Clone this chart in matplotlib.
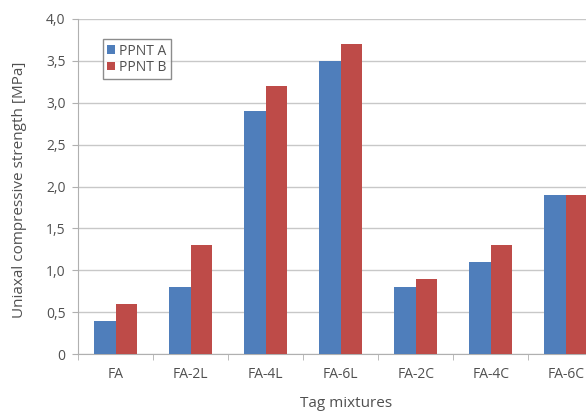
import numpy as np
import matplotlib
matplotlib.use('Agg')
import matplotlib.pyplot as plt

categories = ['FA', 'FA-2L', 'FA-4L', 'FA-6L', 'FA-2C', 'FA-4C', 'FA-6C']
ppnt_a = [0.4, 0.8, 2.9, 3.5, 0.8, 1.1, 1.9]
ppnt_b = [0.6, 1.3, 3.2, 3.7, 0.9, 1.3, 1.9]
yticks = [0, 0.5, 1.0, 1.5, 2.0, 2.5, 3.0, 3.5, 4.0]
ytick_labels = ['0', '0,5', '1,0', '1,5', '2,0', '2,5', '3,0', '3,5', '4,0']

plt.rcParams['font.family'] = ['Open Sans', 'DejaVu Sans']
txt = '#505050'

fig = plt.figure(figsize=(5.86, 4.17), dpi=100)
ax = fig.add_axes([78 / 586, 63 / 417, 1 - 78 / 586, (354 - 19) / 417])

x = np.arange(len(categories))
w = 0.29
ax.bar(x - w / 2, ppnt_a, w, color='#4F7EBB', label='PPNT A', zorder=3)
ax.bar(x + w / 2, ppnt_b, w, color='#BE4B48', label='PPNT B', zorder=3)

ax.set_xlim(-0.5, 6.27)
ax.set_ylim(0, 4.0)
ax.set_yticks(yticks)
ax.set_yticklabels(ytick_labels, fontsize=10, color=txt)
ax.set_xticks(x)
ax.set_xticklabels(categories, fontsize=10, color=txt)
ax.set_xticks(np.arange(-0.5, 6.5, 1), minor=True)
ax.tick_params(axis='x', which='major', length=0, pad=9)
ax.tick_params(axis='x', which='minor', length=4, color='#b0b0b0')
ax.tick_params(axis='y', length=4, color='#b0b0b0', pad=5)
ax.grid(axis='y', color='#c8c8c8', linewidth=1, zorder=0)
for s in ['top', 'right']:
    ax.spines[s].set_visible(False)
ax.spines['left'].set_color('#b0b0b0')
ax.spines['bottom'].set_color('#b0b0b0')

ax.set_ylabel('Uniaxal compressive strength [MPa]', fontsize=11, color=txt)
ax.yaxis.set_label_coords(-(78 - 27) / (586 - 78), 0.49)
ax.set_xlabel('Tag mixtures', fontsize=11, color=txt)
ax.xaxis.set_label_coords((346 - 78) / (586 - 78), -0.125)

leg = ax.legend(loc='upper left', bbox_to_anchor=(0.035, 0.96), fontsize=10,
                fancybox=False, handlelength=0.6, handleheight=0.6,
                handletextpad=0.3, borderpad=0.3, labelspacing=0.1)
leg.get_frame().set_edgecolor('#707070')
leg.get_frame().set_linewidth(1)
for t in leg.get_texts():
    t.set_color(txt)

plt.savefig('out.png')
